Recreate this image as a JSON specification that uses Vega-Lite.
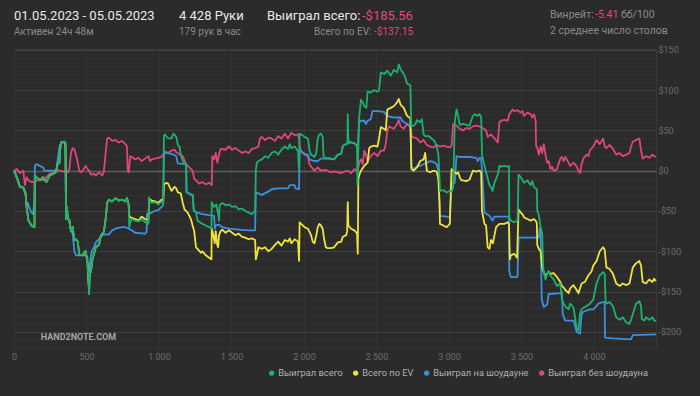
{
"$schema": "https://vega.github.io/schema/vega-lite/v6.json",
"background": "#2b2b2b",
"padding": {"left": 10, "top": 10, "right": 30, "bottom": 20},
"config": {
  "font": "Roboto",
  "view": {"stroke": null},
  "title": {"anchor": "start", "frame": "group", "offset": 0, "font": "Roboto", "fontSize": 13, "fontWeight": "normal", "color": "#e8e8e8", "subtitleFont": "Roboto", "subtitleFontSize": 10, "subtitleColor": "#8a8a8a", "subtitlePadding": 4}
},
"datasets": {
"green": [{"h":0,"v":0},{"h":19,"v":-8},{"h":41,"v":-20},{"h":64,"v":-21},{"h":80,"v":-28},{"h":87,"v":-45},{"h":100,"v":-62},{"h":121,"v":-68},{"h":135,"v":-70},{"h":141,"v":-70},{"h":144,"v":-6},{"h":178,"v":-12},{"h":200,"v":-8},{"h":223,"v":-14},{"h":246,"v":-6},{"h":268,"v":-4},{"h":291,"v":-2},{"h":300,"v":8},{"h":314,"v":10},{"h":320,"v":30},{"h":325,"v":35},{"h":348,"v":36},{"h":355,"v":34},{"h":359,"v":-60},{"h":365,"v":-45},{"h":371,"v":-58},{"h":382,"v":-62},{"h":393,"v":-75},{"h":405,"v":-70},{"h":416,"v":-86},{"h":427,"v":-85},{"h":440,"v":-88},{"h":450,"v":-104},{"h":473,"v":-105},{"h":490,"v":-100},{"h":495,"v":-100},{"h":507,"v":-115},{"h":515,"v":-140},{"h":518,"v":-153},{"h":522,"v":-125},{"h":530,"v":-126},{"h":541,"v":-110},{"h":552,"v":-103},{"h":564,"v":-95},{"h":586,"v":-92},{"h":600,"v":-80},{"h":609,"v":-78},{"h":620,"v":-76},{"h":632,"v":-60},{"h":643,"v":-40},{"h":654,"v":-36},{"h":677,"v":-38},{"h":700,"v":-34},{"h":722,"v":-37},{"h":745,"v":-36},{"h":768,"v":-38},{"h":779,"v":-34},{"h":791,"v":-42},{"h":795,"v":-70},{"h":802,"v":-64},{"h":813,"v":-60},{"h":836,"v":-62},{"h":859,"v":-63},{"h":881,"v":-60},{"h":904,"v":-64},{"h":915,"v":-62},{"h":927,"v":-66},{"h":932,"v":-33},{"h":938,"v":-38},{"h":950,"v":-40},{"h":972,"v":-39},{"h":995,"v":-42},{"h":1018,"v":-38},{"h":1029,"v":-40},{"h":1034,"v":43},{"h":1040,"v":45},{"h":1063,"v":40},{"h":1086,"v":40},{"h":1100,"v":46},{"h":1119,"v":42},{"h":1130,"v":32},{"h":1141,"v":30},{"h":1153,"v":18},{"h":1164,"v":12},{"h":1180,"v":8},{"h":1187,"v":8},{"h":1190,"v":-25},{"h":1198,"v":-27},{"h":1220,"v":-30},{"h":1232,"v":-30},{"h":1240,"v":-48},{"h":1255,"v":-52},{"h":1266,"v":-62},{"h":1290,"v":-65},{"h":1323,"v":-68},{"h":1346,"v":-70},{"h":1362,"v":-72},{"h":1364,"v":-39},{"h":1380,"v":-45},{"h":1395,"v":-42},{"h":1410,"v":-55},{"h":1414,"v":-62},{"h":1418,"v":-43},{"h":1436,"v":-40},{"h":1459,"v":-43},{"h":1482,"v":-42},{"h":1505,"v":-45},{"h":1527,"v":-44},{"h":1550,"v":-48},{"h":1573,"v":-47},{"h":1595,"v":-50},{"h":1618,"v":-52},{"h":1641,"v":-54},{"h":1663,"v":-50},{"h":1668,"v":0},{"h":1675,"v":10},{"h":1686,"v":12},{"h":1709,"v":14},{"h":1732,"v":18},{"h":1754,"v":16},{"h":1777,"v":22},{"h":1800,"v":24},{"h":1822,"v":20},{"h":1845,"v":26},{"h":1868,"v":30},{"h":1890,"v":27},{"h":1902,"v":33},{"h":1913,"v":28},{"h":1936,"v":30},{"h":1959,"v":24},{"h":1966,"v":0},{"h":1970,"v":46},{"h":1981,"v":45},{"h":2004,"v":42},{"h":2027,"v":40},{"h":2038,"v":25},{"h":2049,"v":20},{"h":2072,"v":17},{"h":2085,"v":22},{"h":2095,"v":40},{"h":2106,"v":45},{"h":2117,"v":46},{"h":2129,"v":42},{"h":2135,"v":18},{"h":2151,"v":15},{"h":2163,"v":16},{"h":2186,"v":15},{"h":2208,"v":14},{"h":2234,"v":20},{"h":2257,"v":21},{"h":2268,"v":31},{"h":2291,"v":33},{"h":2300,"v":35},{"h":2302,"v":70},{"h":2306,"v":37},{"h":2325,"v":35},{"h":2348,"v":34},{"h":2366,"v":30},{"h":2369,"v":-18},{"h":2373,"v":10},{"h":2380,"v":65},{"h":2393,"v":88},{"h":2405,"v":85},{"h":2416,"v":80},{"h":2430,"v":78},{"h":2439,"v":98},{"h":2461,"v":97},{"h":2484,"v":100},{"h":2507,"v":98},{"h":2518,"v":100},{"h":2530,"v":122},{"h":2552,"v":120},{"h":2575,"v":124},{"h":2598,"v":118},{"h":2620,"v":125},{"h":2643,"v":122},{"h":2654,"v":132},{"h":2666,"v":126},{"h":2688,"v":120},{"h":2700,"v":115},{"h":2711,"v":108},{"h":2734,"v":106},{"h":2740,"v":55},{"h":2757,"v":56},{"h":2770,"v":58},{"h":2779,"v":63},{"h":2802,"v":60},{"h":2813,"v":64},{"h":2825,"v":45},{"h":2836,"v":43},{"h":2860,"v":43},{"h":2880,"v":40},{"h":2893,"v":38},{"h":2905,"v":35},{"h":2915,"v":30},{"h":2927,"v":20},{"h":2935,"v":-10},{"h":2938,"v":-25},{"h":2961,"v":-24},{"h":2984,"v":-27},{"h":3006,"v":-25},{"h":3020,"v":-26},{"h":3029,"v":-20},{"h":3040,"v":60},{"h":3052,"v":76},{"h":3063,"v":68},{"h":3074,"v":57},{"h":3097,"v":58},{"h":3120,"v":57},{"h":3142,"v":56},{"h":3165,"v":68},{"h":3180,"v":70},{"h":3199,"v":68},{"h":3211,"v":70},{"h":3222,"v":67},{"h":3228,"v":20},{"h":3240,"v":10},{"h":3256,"v":-2},{"h":3279,"v":-18},{"h":3290,"v":-20},{"h":3301,"v":-25},{"h":3314,"v":-15},{"h":3325,"v":-10},{"h":3337,"v":-5},{"h":3348,"v":6},{"h":3359,"v":5},{"h":3382,"v":6},{"h":3405,"v":5},{"h":3414,"v":6},{"h":3416,"v":-58},{"h":3427,"v":-62},{"h":3450,"v":-64},{"h":3473,"v":-62},{"h":3480,"v":-5},{"h":3495,"v":-8},{"h":3507,"v":-12},{"h":3518,"v":-15},{"h":3541,"v":-12},{"h":3564,"v":-18},{"h":3575,"v":-13},{"h":3586,"v":-20},{"h":3598,"v":-22},{"h":3606,"v":-23},{"h":3609,"v":-50},{"h":3620,"v":-55},{"h":3632,"v":-70},{"h":3643,"v":-78},{"h":3650,"v":-120},{"h":3654,"v":-125},{"h":3666,"v":-135},{"h":3677,"v":-128},{"h":3688,"v":-125},{"h":3700,"v":-130},{"h":3722,"v":-135},{"h":3745,"v":-143},{"h":3768,"v":-140},{"h":3779,"v":-160},{"h":3791,"v":-165},{"h":3802,"v":-168},{"h":3825,"v":-172},{"h":3836,"v":-165},{"h":3859,"v":-170},{"h":3881,"v":-195},{"h":3893,"v":-198},{"h":3904,"v":-178},{"h":3915,"v":-172},{"h":3927,"v":-170},{"h":3949,"v":-168},{"h":3972,"v":-165},{"h":3995,"v":-160},{"h":4018,"v":-140},{"h":4029,"v":-135},{"h":4040,"v":-130},{"h":4063,"v":-126},{"h":4074,"v":-128},{"h":4080,"v":-160},{"h":4086,"v":-165},{"h":4108,"v":-163},{"h":4131,"v":-168},{"h":4154,"v":-182},{"h":4177,"v":-185},{"h":4199,"v":-182},{"h":4222,"v":-188},{"h":4245,"v":-190},{"h":4256,"v":-185},{"h":4268,"v":-178},{"h":4290,"v":-165},{"h":4313,"v":-162},{"h":4325,"v":-168},{"h":4330,"v":-184},{"h":4347,"v":-186},{"h":4359,"v":-182},{"h":4381,"v":-185},{"h":4404,"v":-182},{"h":4415,"v":-186},{"h":4428,"v":-186}],
"yellow": [{"h":0,"v":0},{"h":19,"v":-8},{"h":41,"v":-20},{"h":64,"v":-21},{"h":80,"v":-28},{"h":87,"v":-45},{"h":100,"v":-62},{"h":121,"v":-68},{"h":135,"v":-70},{"h":141,"v":-70},{"h":144,"v":-6},{"h":178,"v":-12},{"h":200,"v":-8},{"h":223,"v":-14},{"h":246,"v":-6},{"h":268,"v":-4},{"h":291,"v":-2},{"h":300,"v":8},{"h":314,"v":10},{"h":320,"v":30},{"h":325,"v":35},{"h":348,"v":36},{"h":355,"v":34},{"h":359,"v":-60},{"h":365,"v":-45},{"h":371,"v":-58},{"h":382,"v":-62},{"h":393,"v":-75},{"h":405,"v":-70},{"h":416,"v":-86},{"h":427,"v":-85},{"h":440,"v":-88},{"h":450,"v":-104},{"h":473,"v":-105},{"h":490,"v":-100},{"h":495,"v":-100},{"h":507,"v":-115},{"h":515,"v":-140},{"h":518,"v":-150},{"h":522,"v":-125},{"h":530,"v":-126},{"h":541,"v":-110},{"h":552,"v":-103},{"h":564,"v":-95},{"h":586,"v":-92},{"h":600,"v":-80},{"h":609,"v":-78},{"h":620,"v":-76},{"h":632,"v":-60},{"h":643,"v":-40},{"h":654,"v":-36},{"h":677,"v":-38},{"h":700,"v":-34},{"h":722,"v":-37},{"h":745,"v":-36},{"h":768,"v":-38},{"h":779,"v":-34},{"h":791,"v":-42},{"h":795,"v":-55},{"h":802,"v":-58},{"h":836,"v":-60},{"h":859,"v":-62},{"h":881,"v":-57},{"h":904,"v":-60},{"h":927,"v":-62},{"h":932,"v":-35},{"h":950,"v":-37},{"h":972,"v":-38},{"h":995,"v":-40},{"h":1018,"v":-36},{"h":1029,"v":-38},{"h":1034,"v":-17},{"h":1052,"v":-15},{"h":1063,"v":-16},{"h":1086,"v":-25},{"h":1108,"v":-20},{"h":1119,"v":-22},{"h":1130,"v":-27},{"h":1150,"v":-28},{"h":1164,"v":-40},{"h":1176,"v":-48},{"h":1198,"v":-52},{"h":1220,"v":-60},{"h":1232,"v":-68},{"h":1243,"v":-75},{"h":1255,"v":-95},{"h":1270,"v":-98},{"h":1290,"v":-102},{"h":1300,"v":-100},{"h":1323,"v":-105},{"h":1346,"v":-108},{"h":1362,"v":-110},{"h":1364,"v":-72},{"h":1375,"v":-80},{"h":1385,"v":-90},{"h":1391,"v":-75},{"h":1402,"v":-92},{"h":1408,"v":-95},{"h":1414,"v":-80},{"h":1425,"v":-75},{"h":1436,"v":-73},{"h":1459,"v":-77},{"h":1482,"v":-74},{"h":1505,"v":-77},{"h":1527,"v":-80},{"h":1550,"v":-78},{"h":1573,"v":-82},{"h":1595,"v":-83},{"h":1618,"v":-85},{"h":1641,"v":-84},{"h":1663,"v":-86},{"h":1668,"v":-110},{"h":1675,"v":-105},{"h":1686,"v":-95},{"h":1709,"v":-97},{"h":1732,"v":-95},{"h":1754,"v":-100},{"h":1777,"v":-97},{"h":1800,"v":-92},{"h":1822,"v":-88},{"h":1845,"v":-93},{"h":1868,"v":-86},{"h":1890,"v":-88},{"h":1902,"v":-84},{"h":1913,"v":-90},{"h":1936,"v":-85},{"h":1959,"v":-88},{"h":1966,"v":-112},{"h":1970,"v":-64},{"h":1981,"v":-66},{"h":2004,"v":-70},{"h":2027,"v":-72},{"h":2049,"v":-80},{"h":2060,"v":-88},{"h":2072,"v":-90},{"h":2085,"v":-80},{"h":2095,"v":-70},{"h":2106,"v":-66},{"h":2117,"v":-68},{"h":2129,"v":-72},{"h":2140,"v":-86},{"h":2151,"v":-95},{"h":2163,"v":-96},{"h":2186,"v":-96},{"h":2208,"v":-95},{"h":2234,"v":-89},{"h":2257,"v":-88},{"h":2268,"v":-82},{"h":2291,"v":-80},{"h":2298,"v":-75},{"h":2302,"v":-39},{"h":2306,"v":-68},{"h":2325,"v":-72},{"h":2348,"v":-74},{"h":2366,"v":-78},{"h":2371,"v":-103},{"h":2375,"v":-10},{"h":2382,"v":-5},{"h":2393,"v":0},{"h":2416,"v":6},{"h":2439,"v":10},{"h":2450,"v":28},{"h":2461,"v":30},{"h":2484,"v":31},{"h":2507,"v":30},{"h":2518,"v":40},{"h":2530,"v":54},{"h":2552,"v":52},{"h":2564,"v":50},{"h":2575,"v":76},{"h":2598,"v":78},{"h":2620,"v":80},{"h":2643,"v":85},{"h":2654,"v":89},{"h":2666,"v":82},{"h":2688,"v":78},{"h":2711,"v":68},{"h":2734,"v":65},{"h":2741,"v":2},{"h":2757,"v":0},{"h":2779,"v":4},{"h":2802,"v":12},{"h":2825,"v":14},{"h":2836,"v":22},{"h":2847,"v":0},{"h":2870,"v":-2},{"h":2893,"v":0},{"h":2915,"v":-1},{"h":2927,"v":-10},{"h":2935,"v":-40},{"h":2938,"v":-66},{"h":2961,"v":-68},{"h":2984,"v":-70},{"h":3006,"v":-66},{"h":3018,"v":2},{"h":3029,"v":0},{"h":3052,"v":-4},{"h":3063,"v":-2},{"h":3074,"v":-8},{"h":3086,"v":-12},{"h":3097,"v":-12},{"h":3120,"v":-13},{"h":3142,"v":-11},{"h":3165,"v":0},{"h":3188,"v":-1},{"h":3211,"v":0},{"h":3222,"v":-2},{"h":3228,"v":-50},{"h":3245,"v":-66},{"h":3256,"v":-68},{"h":3267,"v":-95},{"h":3279,"v":-97},{"h":3290,"v":-86},{"h":3303,"v":-90},{"h":3314,"v":-80},{"h":3325,"v":-70},{"h":3348,"v":-66},{"h":3382,"v":-66},{"h":3405,"v":-64},{"h":3414,"v":-66},{"h":3420,"v":-110},{"h":3427,"v":-105},{"h":3450,"v":-103},{"h":3470,"v":-108},{"h":3480,"v":-48},{"h":3495,"v":-52},{"h":3507,"v":-54},{"h":3518,"v":-58},{"h":3541,"v":-60},{"h":3564,"v":-62},{"h":3586,"v":-60},{"h":3598,"v":-62},{"h":3606,"v":-65},{"h":3609,"v":-92},{"h":3620,"v":-97},{"h":3632,"v":-100},{"h":3643,"v":-120},{"h":3654,"v":-126},{"h":3666,"v":-130},{"h":3677,"v":-128},{"h":3688,"v":-125},{"h":3700,"v":-128},{"h":3722,"v":-127},{"h":3745,"v":-132},{"h":3768,"v":-138},{"h":3779,"v":-143},{"h":3791,"v":-145},{"h":3802,"v":-148},{"h":3825,"v":-152},{"h":3836,"v":-146},{"h":3859,"v":-142},{"h":3881,"v":-148},{"h":3893,"v":-152},{"h":3915,"v":-140},{"h":3938,"v":-138},{"h":3961,"v":-130},{"h":3983,"v":-125},{"h":3995,"v":-118},{"h":4018,"v":-112},{"h":4040,"v":-100},{"h":4063,"v":-95},{"h":4074,"v":-98},{"h":4086,"v":-120},{"h":4108,"v":-122},{"h":4131,"v":-128},{"h":4154,"v":-140},{"h":4177,"v":-143},{"h":4199,"v":-140},{"h":4222,"v":-142},{"h":4245,"v":-140},{"h":4268,"v":-120},{"h":4290,"v":-115},{"h":4313,"v":-112},{"h":4325,"v":-118},{"h":4336,"v":-138},{"h":4359,"v":-140},{"h":4381,"v":-135},{"h":4404,"v":-138},{"h":4415,"v":-134},{"h":4428,"v":-137}],
"blue": [{"h":0,"v":0},{"h":19,"v":-8},{"h":41,"v":-20},{"h":64,"v":-21},{"h":80,"v":-30},{"h":87,"v":-43},{"h":95,"v":-40},{"h":110,"v":-48},{"h":121,"v":-52},{"h":132,"v":-54},{"h":140,"v":-40},{"h":144,"v":6},{"h":155,"v":8},{"h":178,"v":6},{"h":200,"v":4},{"h":210,"v":0},{"h":246,"v":0},{"h":291,"v":0},{"h":300,"v":12},{"h":314,"v":30},{"h":325,"v":35},{"h":348,"v":35},{"h":355,"v":30},{"h":359,"v":-55},{"h":371,"v":-58},{"h":382,"v":-62},{"h":393,"v":-75},{"h":405,"v":-78},{"h":416,"v":-100},{"h":427,"v":-105},{"h":495,"v":-105},{"h":507,"v":-108},{"h":515,"v":-140},{"h":518,"v":-153},{"h":522,"v":-120},{"h":530,"v":-105},{"h":541,"v":-98},{"h":552,"v":-95},{"h":564,"v":-89},{"h":586,"v":-85},{"h":609,"v":-80},{"h":632,"v":-79},{"h":654,"v":-79},{"h":677,"v":-74},{"h":700,"v":-72},{"h":745,"v":-70},{"h":768,"v":-70},{"h":791,"v":-72},{"h":813,"v":-74},{"h":836,"v":-77},{"h":904,"v":-78},{"h":915,"v":-76},{"h":917,"v":-54},{"h":938,"v":-53},{"h":972,"v":-50},{"h":995,"v":-49},{"h":1018,"v":-45},{"h":1029,"v":-43},{"h":1034,"v":21},{"h":1052,"v":22},{"h":1086,"v":21},{"h":1100,"v":20},{"h":1119,"v":18},{"h":1130,"v":9},{"h":1187,"v":8},{"h":1190,"v":-27},{"h":1232,"v":-30},{"h":1240,"v":-50},{"h":1266,"v":-52},{"h":1300,"v":-54},{"h":1346,"v":-55},{"h":1380,"v":-56},{"h":1385,"v":-72},{"h":1391,"v":-68},{"h":1414,"v":-67},{"h":1436,"v":-70},{"h":1482,"v":-72},{"h":1550,"v":-73},{"h":1618,"v":-74},{"h":1663,"v":-74},{"h":1668,"v":-27},{"h":1709,"v":-30},{"h":1754,"v":-26},{"h":1777,"v":-23},{"h":1822,"v":-22},{"h":1890,"v":-22},{"h":1902,"v":-18},{"h":1936,"v":-18},{"h":1940,"v":-22},{"h":1966,"v":-23},{"h":1970,"v":25},{"h":1981,"v":24},{"h":2004,"v":21},{"h":2027,"v":20},{"h":2038,"v":14},{"h":2072,"v":12},{"h":2095,"v":12},{"h":2117,"v":15},{"h":2163,"v":15},{"h":2208,"v":14},{"h":2234,"v":20},{"h":2257,"v":21},{"h":2268,"v":31},{"h":2291,"v":33},{"h":2325,"v":35},{"h":2348,"v":34},{"h":2366,"v":32},{"h":2371,"v":28},{"h":2380,"v":60},{"h":2393,"v":62},{"h":2416,"v":62},{"h":2427,"v":58},{"h":2439,"v":62},{"h":2461,"v":64},{"h":2473,"v":74},{"h":2507,"v":74},{"h":2552,"v":73},{"h":2564,"v":70},{"h":2575,"v":68},{"h":2620,"v":66},{"h":2666,"v":66},{"h":2677,"v":62},{"h":2711,"v":58},{"h":2734,"v":55},{"h":2741,"v":5},{"h":2757,"v":2},{"h":2779,"v":5},{"h":2802,"v":6},{"h":2825,"v":8},{"h":2847,"v":10},{"h":2870,"v":12},{"h":2893,"v":11},{"h":2915,"v":8},{"h":2927,"v":0},{"h":2935,"v":-40},{"h":2938,"v":-56},{"h":2984,"v":-57},{"h":3006,"v":-58},{"h":3018,"v":-16},{"h":3040,"v":-15},{"h":3052,"v":18},{"h":3074,"v":17},{"h":3142,"v":17},{"h":3188,"v":16},{"h":3199,"v":12},{"h":3211,"v":16},{"h":3222,"v":16},{"h":3228,"v":0},{"h":3245,"v":-52},{"h":3279,"v":-56},{"h":3301,"v":-62},{"h":3314,"v":-57},{"h":3405,"v":-57},{"h":3414,"v":-58},{"h":3416,"v":-125},{"h":3427,"v":-132},{"h":3470,"v":-132},{"h":3473,"v":-130},{"h":3480,"v":-83},{"h":3620,"v":-83},{"h":3625,"v":-72},{"h":3632,"v":-72},{"h":3640,"v":-160},{"h":3654,"v":-169},{"h":3677,"v":-166},{"h":3688,"v":-153},{"h":3768,"v":-152},{"h":3779,"v":-150},{"h":3785,"v":-178},{"h":3802,"v":-186},{"h":3859,"v":-186},{"h":3881,"v":-200},{"h":3904,"v":-202},{"h":3915,"v":-178},{"h":3927,"v":-175},{"h":3972,"v":-172},{"h":3995,"v":-172},{"h":4018,"v":-168},{"h":4029,"v":-165},{"h":4063,"v":-163},{"h":4074,"v":-163},{"h":4076,"v":-207},{"h":4131,"v":-208},{"h":4222,"v":-209},{"h":4256,"v":-209},{"h":4268,"v":-204},{"h":4428,"v":-203}],
"pink": [{"h":0,"v":0},{"h":19,"v":2},{"h":41,"v":-3},{"h":64,"v":0},{"h":75,"v":-18},{"h":87,"v":-8},{"h":100,"v":-12},{"h":121,"v":-14},{"h":144,"v":-14},{"h":178,"v":-10},{"h":200,"v":-12},{"h":223,"v":-8},{"h":246,"v":-4},{"h":268,"v":-3},{"h":291,"v":0},{"h":314,"v":0},{"h":337,"v":-1},{"h":359,"v":0},{"h":371,"v":-2},{"h":382,"v":2},{"h":393,"v":22},{"h":405,"v":28},{"h":416,"v":27},{"h":427,"v":20},{"h":440,"v":10},{"h":450,"v":0},{"h":461,"v":-2},{"h":473,"v":0},{"h":484,"v":3},{"h":495,"v":6},{"h":507,"v":2},{"h":518,"v":0},{"h":530,"v":-5},{"h":552,"v":-4},{"h":564,"v":-6},{"h":586,"v":-2},{"h":609,"v":-6},{"h":620,"v":-1},{"h":632,"v":22},{"h":643,"v":40},{"h":654,"v":41},{"h":677,"v":37},{"h":700,"v":38},{"h":722,"v":35},{"h":745,"v":37},{"h":768,"v":33},{"h":779,"v":30},{"h":785,"v":0},{"h":791,"v":-2},{"h":802,"v":18},{"h":813,"v":17},{"h":836,"v":14},{"h":859,"v":16},{"h":881,"v":12},{"h":904,"v":15},{"h":927,"v":18},{"h":938,"v":12},{"h":949,"v":14},{"h":972,"v":15},{"h":995,"v":16},{"h":1018,"v":17},{"h":1040,"v":24},{"h":1063,"v":22},{"h":1086,"v":25},{"h":1108,"v":26},{"h":1119,"v":23},{"h":1130,"v":22},{"h":1141,"v":20},{"h":1164,"v":18},{"h":1187,"v":8},{"h":1209,"v":4},{"h":1232,"v":0},{"h":1243,"v":-10},{"h":1255,"v":-12},{"h":1278,"v":-16},{"h":1300,"v":-14},{"h":1323,"v":-17},{"h":1346,"v":-15},{"h":1364,"v":-18},{"h":1368,"v":18},{"h":1380,"v":14},{"h":1391,"v":22},{"h":1402,"v":10},{"h":1414,"v":20},{"h":1425,"v":27},{"h":1459,"v":26},{"h":1482,"v":30},{"h":1505,"v":26},{"h":1527,"v":28},{"h":1550,"v":25},{"h":1573,"v":22},{"h":1595,"v":24},{"h":1618,"v":22},{"h":1641,"v":27},{"h":1663,"v":28},{"h":1686,"v":30},{"h":1697,"v":40},{"h":1709,"v":42},{"h":1732,"v":38},{"h":1754,"v":41},{"h":1777,"v":40},{"h":1800,"v":37},{"h":1822,"v":43},{"h":1845,"v":40},{"h":1868,"v":46},{"h":1890,"v":40},{"h":1913,"v":47},{"h":1936,"v":44},{"h":1959,"v":45},{"h":1966,"v":40},{"h":1970,"v":30},{"h":1981,"v":24},{"h":2004,"v":20},{"h":2027,"v":18},{"h":2038,"v":8},{"h":2049,"v":5},{"h":2072,"v":0},{"h":2095,"v":4},{"h":2117,"v":0},{"h":2140,"v":1},{"h":2163,"v":0},{"h":2186,"v":-2},{"h":2208,"v":-1},{"h":2234,"v":-2},{"h":2257,"v":-3},{"h":2280,"v":-1},{"h":2302,"v":0},{"h":2325,"v":-3},{"h":2348,"v":2},{"h":2371,"v":0},{"h":2382,"v":10},{"h":2393,"v":14},{"h":2405,"v":8},{"h":2416,"v":25},{"h":2427,"v":20},{"h":2439,"v":12},{"h":2461,"v":18},{"h":2484,"v":22},{"h":2507,"v":18},{"h":2530,"v":25},{"h":2552,"v":25},{"h":2564,"v":33},{"h":2575,"v":50},{"h":2586,"v":55},{"h":2620,"v":52},{"h":2643,"v":58},{"h":2654,"v":63},{"h":2666,"v":55},{"h":2688,"v":52},{"h":2711,"v":58},{"h":2734,"v":54},{"h":2745,"v":42},{"h":2779,"v":40},{"h":2802,"v":35},{"h":2825,"v":38},{"h":2847,"v":32},{"h":2870,"v":30},{"h":2893,"v":29},{"h":2915,"v":32},{"h":2938,"v":30},{"h":2961,"v":31},{"h":2984,"v":30},{"h":3006,"v":29},{"h":3018,"v":31},{"h":3029,"v":58},{"h":3052,"v":56},{"h":3074,"v":52},{"h":3097,"v":50},{"h":3120,"v":53},{"h":3142,"v":52},{"h":3165,"v":55},{"h":3188,"v":56},{"h":3211,"v":55},{"h":3233,"v":53},{"h":3256,"v":50},{"h":3267,"v":42},{"h":3290,"v":45},{"h":3314,"v":40},{"h":3337,"v":35},{"h":3348,"v":60},{"h":3359,"v":62},{"h":3382,"v":63},{"h":3405,"v":62},{"h":3416,"v":70},{"h":3439,"v":76},{"h":3450,"v":74},{"h":3473,"v":75},{"h":3495,"v":72},{"h":3507,"v":74},{"h":3518,"v":68},{"h":3541,"v":72},{"h":3564,"v":70},{"h":3575,"v":66},{"h":3586,"v":70},{"h":3598,"v":62},{"h":3601,"v":31},{"h":3609,"v":28},{"h":3620,"v":20},{"h":3632,"v":30},{"h":3643,"v":22},{"h":3654,"v":33},{"h":3666,"v":20},{"h":3677,"v":10},{"h":3688,"v":12},{"h":3700,"v":2},{"h":3711,"v":5},{"h":3722,"v":0},{"h":3745,"v":2},{"h":3768,"v":15},{"h":3779,"v":17},{"h":3791,"v":12},{"h":3802,"v":17},{"h":3825,"v":10},{"h":3836,"v":6},{"h":3859,"v":10},{"h":3881,"v":5},{"h":3893,"v":0},{"h":3904,"v":-3},{"h":3915,"v":8},{"h":3927,"v":15},{"h":3949,"v":20},{"h":3961,"v":18},{"h":3972,"v":25},{"h":3995,"v":30},{"h":4018,"v":38},{"h":4040,"v":33},{"h":4063,"v":40},{"h":4074,"v":30},{"h":4086,"v":28},{"h":4108,"v":32},{"h":4131,"v":27},{"h":4154,"v":20},{"h":4177,"v":22},{"h":4199,"v":18},{"h":4222,"v":20},{"h":4245,"v":22},{"h":4256,"v":30},{"h":4268,"v":36},{"h":4290,"v":38},{"h":4313,"v":40},{"h":4325,"v":25},{"h":4336,"v":15},{"h":4359,"v":18},{"h":4381,"v":16},{"h":4404,"v":20},{"h":4415,"v":18},{"h":4428,"v":17}],
"wm": [{"label": "HAND2NOTE.COM", "h": 185, "v": -206}]
},
"spacing": 8,
"bounds": "flush",
"vconcat": [
{
  "spacing": 0,
  "bounds": "flush",
  "hconcat": [
    {"width": 165, "height": 8, "data": {"values": []}, "mark": "point", "title": {"text": "01.05.2023 - 05.05.2023", "subtitle": "Активен 24ч 48м"}},
    {"width": 88, "height": 8, "data": {"values": []}, "mark": "point", "title": {"text": "4 428 Руки", "subtitle": "179 рук в час"}},
    {"width": 47, "height": 8, "data": {"values": []}, "mark": "point", "title": {"text": "Выиграл всего:", "subtitle": "\u00a0"}},
    {"width": 48, "height": 8, "data": {"values": []}, "mark": "point", "title": {"text": "\u00a0", "subtitle": "Всего по EV:"}},
    {"width": 12, "height": 8, "data": {"values": []}, "mark": "point", "title": {"text": "-$185.56", "subtitle": "\u00a0", "color": "#e2497c"}},
    {"width": 176, "height": 8, "data": {"values": []}, "mark": "point", "title": {"text": "\u00a0", "subtitle": "-$137.15", "subtitleColor": "#e2497c"}},
    {"width": 45, "height": 8, "data": {"values": []}, "mark": "point", "title": {"text": "Винрейт:", "subtitle": "2 среднее число столов", "fontSize": 10.5, "color": "#8a8a8a", "subtitleFontSize": 10.5, "subtitlePadding": 5, "dy": -1}},
    {"width": 26, "height": 8, "data": {"values": []}, "mark": "point", "title": {"text": "-5.41", "subtitle": "\u00a0", "fontSize": 10.5, "color": "#e2497c", "subtitleFontSize": 10.5, "subtitlePadding": 5, "dy": -1}},
    {"width": 40, "height": 8, "data": {"values": []}, "mark": "point", "title": {"text": "бб/100", "subtitle": "\u00a0", "fontSize": 10.5, "color": "#8a8a8a", "subtitleFontSize": 10.5, "subtitlePadding": 5, "dy": -1}}
  ]
},
{
  "width": 642,
  "height": 299,
  "view": {"stroke": "#3a3a3a"},
  "encoding": {
    "x": {"field": "h", "type": "quantitative", "scale": {"domain": [0, 4428], "nice": false, "zero": false},
      "axis": {"title": null, "values": [0,500,1000,1500,2000,2500,3000,3500,4000], "grid": true, "gridColor": "#343434", "domain": false, "ticks": false, "labelColor": "#6c6c6c", "labelFontSize": 9, "labelFont": "Roboto", "labelPadding": 4, "labelFlush": false, "labelExpr": "replace(format(datum.value, ','), ',', ' ')"}},
    "y": {"field": "v", "type": "quantitative", "scale": {"domain": [-220, 151], "nice": false, "zero": false},
      "axis": {"title": null, "orient": "right", "values": [-220,-210,-200,-190,-180,-170,-160,-150,-140,-130,-120,-110,-100,-90,-80,-70,-60,-50,-40,-30,-20,-10,0,10,20,30,40,50,60,70,80,90,100,110,120,130,140,150], "grid": true,
        "gridColor": {"condition": [{"test": "datum.value === 0", "value": "#5e5e5e"}, {"test": "datum.value % 50 === 0", "value": "#404040"}], "value": "#323232"},
        "gridWidth": {"condition": {"test": "datum.value === 0", "value": 1.5}, "value": 1},
        "domain": false, "ticks": false, "labelColor": "#6c6c6c", "labelFontSize": 9, "labelFont": "Roboto", "labelPadding": 2, "labelFlush": false,
        "labelExpr": "datum.value % 50 !== 0 ? '' : (datum.value < 0 ? '-$' + abs(datum.value) : '$' + datum.value)"}}
  },
  "layer": [
    {"data": {"name": "wm"}, "mark": {"type": "text", "align": "left", "baseline": "middle", "fontSize": 9, "fontWeight": "bold", "font": "Roboto", "color": "#a5a5a5"}, "encoding": {"text": {"field": "label", "type": "nominal"}}},
    {"data": {"name": "pink"}, "mark": {"type": "line", "strokeWidth": 1.8, "strokeJoin": "round"}, "encoding": {"color": {"datum": "Выиграл без шоудауна", "type": "nominal"}}},
    {"data": {"name": "blue"}, "mark": {"type": "line", "strokeWidth": 1.8, "strokeJoin": "round"}, "encoding": {"color": {"datum": "Выиграл на шоудауне", "type": "nominal"}}},
    {"data": {"name": "yellow"}, "mark": {"type": "line", "strokeWidth": 1.8, "strokeJoin": "round"}, "encoding": {"color": {"datum": "Всего по EV", "type": "nominal"}}},
    {"data": {"name": "green"}, "mark": {"type": "line", "strokeWidth": 1.8, "strokeJoin": "round"}, "encoding": {"color": {"datum": "Выиграл всего", "type": "nominal",
      "scale": {"domain": ["Выиграл всего", "Всего по EV", "Выиграл на шоудауне", "Выиграл без шоудауна"], "range": ["#1db26c", "#efe53a", "#3d8fe0", "#df467b"]},
      "legend": {"orient": "none", "legendX": 253, "legendY": 327, "direction": "horizontal", "title": null, "symbolType": "circle", "symbolSize": 8, "symbolStrokeWidth": 2.5, "labelColor": "#b0b0b0", "labelFontSize": 9.3, "labelFont": "Roboto", "columnPadding": 6, "labelOffset": 2, "padding": 0}}}}
  ]
}
]
}
